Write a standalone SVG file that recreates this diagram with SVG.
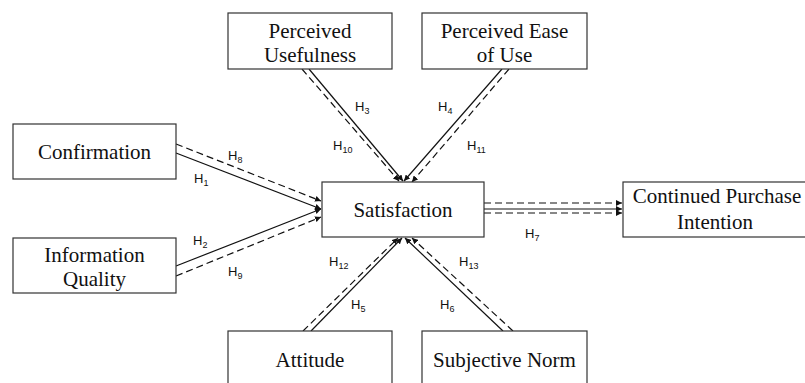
<svg xmlns="http://www.w3.org/2000/svg" width="805" height="383" viewBox="0 0 805 383">
<defs>
<marker id="ah" viewBox="0 0 6 6" refX="6" refY="3" markerWidth="6" markerHeight="6" markerUnits="userSpaceOnUse" orient="auto"><path d="M0,0 L6,3 L0,6 z" fill="#111"/></marker>
<style>
.box{fill:#fff;stroke:#333;stroke-width:1.2}
.t{font-family:"Liberation Serif","Times New Roman",serif;font-size:21px;fill:#111;text-anchor:middle}
.s{stroke:#111;stroke-width:1.2;fill:none;marker-end:url(#ah)}
.d{stroke:#111;stroke-width:1.2;fill:none;stroke-dasharray:7,4;marker-end:url(#ah)}
.h{font-family:"Liberation Sans",Arial,sans-serif;font-size:13px;fill:#111}
.sub{font-size:9px}
</style>
</defs>
<rect width="805" height="383" fill="#fff"/>
<g id="connectors">
<line class="s" x1="309" y1="69" x2="403" y2="181"/>
<line class="d" x1="302" y1="69" x2="399" y2="181"/>
<line class="s" x1="502" y1="69" x2="404" y2="181"/>
<line class="d" x1="509" y1="69" x2="412" y2="182"/>
<line class="s" x1="176" y1="153" x2="321" y2="209"/>
<line class="d" x1="176" y1="144" x2="321" y2="201"/>
<line class="s" x1="176" y1="266" x2="321" y2="209"/>
<line class="d" x1="176" y1="276" x2="321" y2="217"/>
<line class="s" x1="311" y1="331" x2="402" y2="238"/>
<line class="d" x1="303" y1="331" x2="398" y2="238"/>
<line class="s" x1="503" y1="331" x2="405" y2="238"/>
<line class="d" x1="513" y1="331" x2="412" y2="238"/>
<line class="d" x1="484" y1="203" x2="622" y2="203"/>
<line class="s" x1="484" y1="209" x2="622" y2="209"/>
<line class="d" x1="484" y1="213" x2="622" y2="213"/>
<text class="h" x="228" y="160">H<tspan class="sub" dy="3">8</tspan></text>
<text class="h" x="194" y="183">H<tspan class="sub" dy="3">1</tspan></text>
<text class="h" x="193" y="245">H<tspan class="sub" dy="3">2</tspan></text>
<text class="h" x="228" y="276">H<tspan class="sub" dy="3">9</tspan></text>
<text class="h" x="355" y="111">H<tspan class="sub" dy="3">3</tspan></text>
<text class="h" x="333" y="150">H<tspan class="sub" dy="3">10</tspan></text>
<text class="h" x="438" y="111">H<tspan class="sub" dy="3">4</tspan></text>
<text class="h" x="467" y="150">H<tspan class="sub" dy="3">11</tspan></text>
<text class="h" x="525" y="238">H<tspan class="sub" dy="3">7</tspan></text>
<text class="h" x="329" y="266">H<tspan class="sub" dy="3">12</tspan></text>
<text class="h" x="351" y="309">H<tspan class="sub" dy="3">5</tspan></text>
<text class="h" x="440" y="309">H<tspan class="sub" dy="3">6</tspan></text>
<text class="h" x="459" y="266">H<tspan class="sub" dy="3">13</tspan></text>
</g>
<g id="pu"><rect class="box" x="228" y="13" width="164" height="56"/><text class="t" x="310" y="38">Perceived</text><text class="t" x="310" y="62">Usefulness</text></g>
<g id="peou"><rect class="box" x="422" y="13" width="165" height="56"/><text class="t" x="504.5" y="38">Perceived Ease</text><text class="t" x="504.5" y="62">of Use</text></g>
<g id="conf"><rect class="box" x="13" y="124" width="163" height="55"/><text class="t" x="94.5" y="159">Confirmation</text></g>
<g id="iq"><rect class="box" x="13" y="238" width="163" height="55"/><text class="t" x="94.5" y="262">Information</text><text class="t" x="94.5" y="286">Quality</text></g>
<g id="sat"><rect class="box" x="322" y="182" width="162" height="55"/><text class="t" x="403" y="217">Satisfaction</text></g>
<g id="cpi"><rect class="box" x="623" y="182" width="190" height="55"/><text class="t" x="717" y="203">Continued Purchase</text><text class="t" x="715" y="229">Intention</text></g>
<g id="att"><rect class="box" x="228" y="331" width="164" height="60"/><text class="t" x="310" y="367">Attitude</text></g>
<g id="sn"><rect class="box" x="422" y="331" width="165" height="60"/><text class="t" x="504.5" y="367">Subjective Norm</text></g>
</svg>
